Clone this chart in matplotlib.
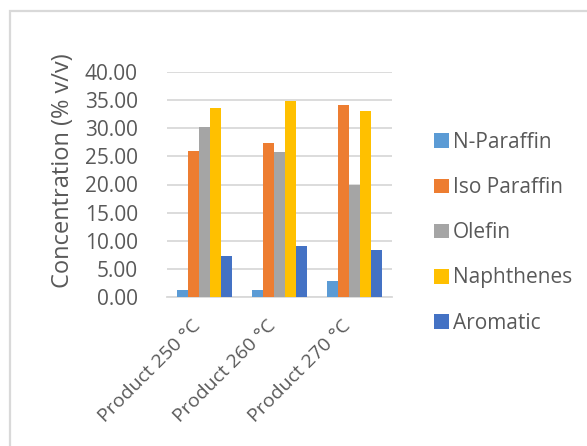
import numpy as np
import matplotlib
matplotlib.use("Agg")
import matplotlib.pyplot as plt
import matplotlib.transforms as mtransforms
from matplotlib.patches import Rectangle

categories = ["Product 250 °C", "Product 260 °C", "Product 270 °C"]
series_names = ["N-Paraffin", "Iso Paraffin", "Olefin", "Naphthenes", "Aromatic"]
n_paraffin = [1.3, 1.2, 2.8]
iso_paraffin = [26.0, 27.3, 34.2]
olefin = [30.3, 25.7, 20.0]
naphthenes = [33.6, 34.9, 33.0]
aromatic = [7.3, 9.0, 8.4]
y_ticks = [0, 5, 10, 15, 20, 25, 30, 35, 40]

colors = ["#5B9BD5", "#ED7D31", "#A5A5A5", "#FFC000", "#4472C4"]
text_color = "#595959"
grid_color = "#D9D9D9"

plt.rcParams["font.family"] = ["Open Sans", "DejaVu Sans"]

fig = plt.figure(figsize=(5.87, 4.46), dpi=100)
ax = fig.add_axes([167 / 587, 1 - 297 / 446, 225 / 587, 225 / 446])

series = [n_paraffin, iso_paraffin, olefin, naphthenes, aromatic]
x = np.arange(len(categories))
bar_w = 0.1467
for i, (name, vals, c) in enumerate(zip(series_names, series, colors)):
    ax.bar(x + (i - 2) * bar_w, vals, width=bar_w, color=c, label=name, zorder=3)

ax.set_xlim(-0.5, len(categories) - 0.5)
ax.set_ylim(0, 40)
ax.set_yticks(y_ticks)
ax.set_yticklabels([f"{v:.2f}" for v in y_ticks], fontsize=15, color=text_color)
ax.set_xticks(x)
ax.set_xticklabels(categories, rotation=45, ha="right", va="top", fontsize=14,
                   color=text_color)
shift = mtransforms.ScaledTranslation(4 / 100, 0, fig.dpi_scale_trans)
for lbl in ax.get_xticklabels():
    lbl.set_transform(lbl.get_transform() + shift)
ax.tick_params(axis="both", length=0)
ax.tick_params(axis="y", pad=21)
ax.tick_params(axis="x", pad=14)
ax.grid(axis="y", color=grid_color, lw=1.3, zorder=0)
for s in ["top", "right", "left"]:
    ax.spines[s].set_visible(False)
ax.spines["bottom"].set_color(grid_color)
ax.spines["bottom"].set_linewidth(1.3)
ax.set_ylabel("Concentration (% v/v)", fontsize=17, color=text_color)
ax.yaxis.set_label_coords((75 - 167) / 225, (297 - 171) / 225)

fig.legend(loc="upper left", bbox_to_anchor=(434 / 587, 1 - 132 / 446),
           frameon=False, fontsize=15, handlelength=0.7, handleheight=0.7,
           handletextpad=0.2, labelspacing=1.16, labelcolor=text_color,
           borderpad=0, borderaxespad=0)

# outer chart border
fig.patches.append(Rectangle((10 / 587, -0.1), 1.0, 1.1 - 11 / 446, transform=fig.transFigure,
                             fill=False, edgecolor=grid_color, lw=1.6))

fig.savefig("out.png", dpi=100, facecolor="white")
